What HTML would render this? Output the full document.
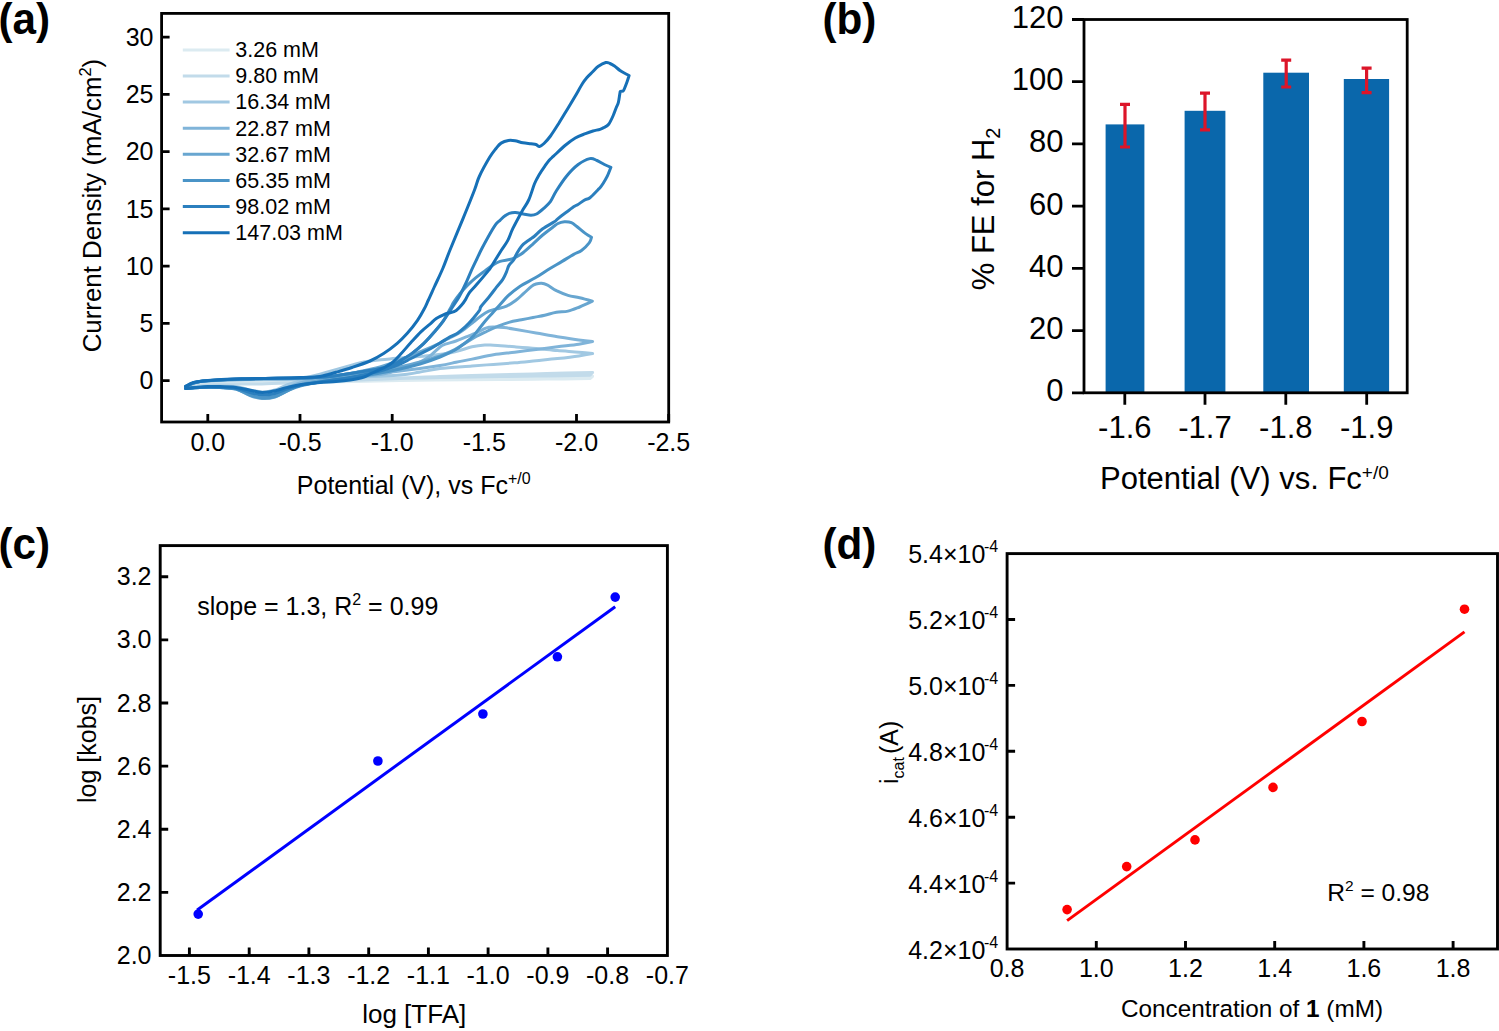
<!DOCTYPE html><html><head><meta charset="utf-8"><title>Figure</title><style>
html,body{margin:0;padding:0;background:#fff;overflow:hidden;width:1499px;height:1031px;}
svg{display:block;}
text{font-family:"Liberation Sans", sans-serif;fill:#000;}
.b{font-weight:bold;}
</style></head><body>
<svg width="1499" height="1031" viewBox="0 0 1499 1031">
<rect x="0" y="0" width="1499" height="1031" fill="#fff"/>
<text x="0.0" y="33.5" font-size="44" class="b" transform="translate(-1.5,0) scale(0.96,1) translate(0.0,0)">(a)</text>
<text x="0.0" y="34.2" font-size="44" class="b" transform="translate(822.5,0) scale(0.96,1) translate(0.0,0)">(b)</text>
<text x="0.0" y="559.3" font-size="44" class="b" transform="translate(-1.5,0) scale(0.96,1) translate(0.0,0)">(c)</text>
<text x="0.0" y="559.3" font-size="44" class="b" transform="translate(822.5,0) scale(0.96,1) translate(0.0,0)">(d)</text>
<defs><clipPath id="ca"><rect x="161.6" y="13.4" width="507.1" height="408.6"/></clipPath></defs>
<g clip-path="url(#ca)" fill="none" stroke-width="3" stroke-linejoin="round" stroke-linecap="round">
<path d="M185.6,386.5 C188.0,385.8 190.1,383.5 200.0,382.5 C209.9,381.5 228.3,380.9 245.0,380.5 C261.7,380.1 274.2,380.2 300.0,380.0 C325.8,379.8 366.7,379.4 400.0,379.0 C433.3,378.6 475.6,377.9 500.0,377.6 C524.5,377.3 531.3,377.3 546.7,377.1 C562.1,376.9 592.6,376.3 592.6,376.3 C592.6,376.3 590.0,378.6 590.0,378.6 C590.0,378.6 561.7,379.0 546.7,379.1 C531.7,379.2 524.5,379.3 500.0,379.5 C475.6,379.7 433.3,380.0 400.0,380.5 C366.7,381.0 327.3,382.0 300.0,382.5 C272.7,383.0 252.7,383.1 236.0,383.5 C219.3,383.9 208.4,384.2 200.0,385.0 C191.6,385.8 188.0,387.5 185.6,388.0" stroke="#dcebf1"/>
<path d="M185.6,386.5 C188.0,385.8 190.1,383.1 200.0,382.0 C209.9,380.9 228.3,380.4 245.0,380.0 C261.7,379.6 282.5,379.7 300.0,379.5 C317.5,379.3 333.3,379.2 350.0,379.0 C366.7,378.8 385.0,378.4 400.0,378.0 C415.0,377.6 423.3,377.0 440.0,376.5 C456.7,376.0 482.2,375.3 500.0,374.8 C517.8,374.3 531.3,374.0 546.7,373.6 C562.1,373.2 592.6,372.4 592.6,372.4 C592.6,372.4 590.0,375.2 590.0,375.2 C590.0,375.2 561.7,375.7 546.7,375.9 C531.7,376.1 517.8,376.3 500.0,376.6 C482.2,376.9 456.7,377.3 440.0,377.6 C423.3,377.9 415.0,378.0 400.0,378.5 C385.0,379.0 366.7,379.8 350.0,380.5 C333.3,381.2 314.7,381.9 300.0,382.5 C285.3,383.1 272.7,383.8 262.0,384.0 C251.3,384.2 246.3,383.8 236.0,384.0 C225.7,384.2 208.4,384.8 200.0,385.5 C191.6,386.2 188.0,387.6 185.6,388.0" stroke="#c2dbea"/>
<path d="M185.6,386.5 C188.0,385.7 190.1,382.7 200.0,381.5 C209.9,380.3 228.3,380.1 245.0,379.5 C261.7,378.9 286.4,379.2 300.0,378.0 C313.6,376.8 316.0,375.0 326.7,372.3 C337.4,369.6 353.9,364.2 364.0,362.0 C374.1,359.8 379.7,360.0 387.4,359.2 C395.1,358.4 402.3,358.0 410.0,357.3 C417.7,356.6 426.6,356.0 433.4,355.2 C440.2,354.4 446.0,353.6 450.7,352.7 C455.4,351.8 457.8,351.0 461.3,350.0 C464.9,349.0 468.1,347.6 472.0,346.8 C475.9,346.0 481.2,345.3 484.8,345.0 C488.4,344.7 488.4,344.9 493.4,345.2 C498.4,345.5 507.6,346.3 514.7,346.8 C521.8,347.3 529.0,347.8 536.1,348.4 C543.2,349.0 550.3,350.0 557.4,350.6 C564.5,351.2 572.9,351.7 578.8,352.2 C584.7,352.7 592.6,353.5 592.6,353.5 C592.6,353.5 584.7,355.0 578.8,355.9 C572.9,356.8 564.5,357.8 557.4,358.6 C550.3,359.4 543.2,360.0 536.1,360.7 C529.0,361.4 521.8,362.2 514.7,362.8 C507.6,363.4 500.5,363.9 493.4,364.4 C486.3,364.9 480.9,365.3 472.0,366.0 C463.1,366.7 448.9,367.4 440.0,368.5 C431.1,369.6 425.6,371.2 418.9,372.3 C412.2,373.4 409.8,374.2 400.0,375.0 C390.2,375.8 373.3,376.5 360.0,377.0 C346.7,377.5 330.0,377.3 320.0,378.0 C310.0,378.7 305.5,379.8 300.0,381.0 C294.5,382.2 291.2,383.5 287.0,385.0 C282.8,386.5 279.1,388.8 275.0,390.0 C270.9,391.2 266.4,392.0 262.2,392.0 C258.0,392.0 254.4,390.9 250.0,390.0 C245.6,389.1 241.0,387.2 236.0,386.5 C231.0,385.8 226.0,386.0 220.0,386.0 C214.0,386.0 205.7,386.2 200.0,386.5 C194.3,386.8 188.0,387.8 185.6,388.0" stroke="#a1c8e2"/>
<path d="M185.6,386.5 C188.0,385.7 190.1,382.7 200.0,381.5 C209.9,380.3 228.3,379.6 245.0,379.2 C261.7,378.8 284.2,379.0 300.0,378.8 C315.8,378.6 326.7,378.7 340.0,378.0 C353.3,377.3 370.0,375.8 380.0,374.5 C390.0,373.2 393.3,372.1 400.0,370.0 C406.7,367.9 415.0,364.3 420.0,362.0 C425.0,359.7 426.7,358.5 430.0,356.0 C433.3,353.5 437.4,349.0 440.0,347.0 C442.6,345.0 442.6,345.2 445.3,344.2 C448.0,343.2 452.4,342.2 456.0,341.0 C459.6,339.8 463.1,338.1 466.7,336.7 C470.3,335.3 474.2,333.8 477.4,332.4 C480.6,331.0 483.2,329.0 485.9,328.1 C488.6,327.2 490.4,327.2 493.4,327.1 C496.4,327.0 500.4,327.2 504.0,327.6 C507.6,328.0 509.4,328.3 514.7,329.2 C520.1,330.1 529.0,331.8 536.1,333.0 C543.2,334.2 550.3,335.6 557.4,336.7 C564.5,337.8 572.9,339.1 578.8,339.9 C584.7,340.7 592.6,341.5 592.6,341.5 C592.6,341.5 584.7,343.3 578.8,344.2 C572.9,345.1 564.5,345.9 557.4,346.8 C550.3,347.7 543.2,348.6 536.1,349.5 C529.0,350.4 521.8,351.3 514.7,352.2 C507.6,353.1 500.5,353.6 493.4,354.8 C486.3,356.0 478.2,357.9 472.0,359.1 C465.8,360.4 461.3,361.2 456.0,362.3 C450.7,363.4 446.0,364.5 440.0,365.5 C434.0,366.5 426.7,367.6 420.0,368.5 C413.3,369.4 406.7,370.2 400.0,371.0 C393.3,371.8 386.7,372.7 380.0,373.5 C373.3,374.3 366.7,375.2 360.0,376.0 C353.3,376.8 346.7,377.3 340.0,378.0 C333.3,378.7 326.7,379.2 320.0,380.0 C313.3,380.8 305.5,381.7 300.0,383.0 C294.5,384.3 291.2,386.2 287.0,388.0 C282.8,389.8 279.1,392.7 275.0,394.0 C270.9,395.3 266.4,396.1 262.2,396.0 C258.0,395.9 254.4,394.8 250.0,393.5 C245.6,392.2 241.0,389.5 236.0,388.5 C231.0,387.5 226.0,387.7 220.0,387.5 C214.0,387.3 205.7,387.3 200.0,387.5 C194.3,387.7 188.0,388.3 185.6,388.5" stroke="#80b4d9"/>
<path d="M185.6,386.5 C188.0,385.7 190.1,382.8 200.0,381.5 C209.9,380.2 228.3,379.5 245.0,379.0 C261.7,378.5 287.5,378.8 300.0,378.5 C312.5,378.2 313.3,377.6 320.0,377.0 C326.7,376.4 333.3,375.9 340.0,375.0 C346.7,374.1 353.3,372.8 360.0,371.5 C366.7,370.2 373.3,368.9 380.0,367.0 C386.7,365.1 393.3,362.5 400.0,360.0 C406.7,357.5 413.3,354.8 420.0,352.0 C426.7,349.2 435.0,345.5 440.0,343.1 C445.0,340.7 447.0,339.2 450.0,337.6 C453.0,336.0 455.2,335.2 457.8,333.7 C460.4,332.1 462.9,330.2 465.5,328.3 C468.1,326.4 470.7,324.2 473.3,322.1 C475.9,320.0 478.4,317.7 481.0,315.9 C483.6,314.1 486.2,312.4 488.8,311.2 C491.4,310.0 493.5,309.7 496.5,308.9 C499.5,308.1 503.4,307.6 506.6,306.2 C509.8,304.8 513.0,302.4 515.9,300.3 C518.8,298.2 521.1,295.7 523.7,293.4 C526.3,291.1 529.5,288.0 531.5,286.4 C533.5,284.8 534.3,284.5 536.0,284.0 C537.7,283.5 539.6,283.1 541.5,283.2 C543.4,283.3 544.6,283.6 547.1,284.9 C549.6,286.1 552.9,288.9 556.4,290.7 C559.9,292.4 564.1,294.2 568.0,295.4 C571.9,296.6 575.5,296.7 579.6,297.7 C583.7,298.7 592.4,301.2 592.4,301.2 C592.4,301.2 583.7,305.4 579.6,307.0 C575.5,308.6 571.9,310.2 568.0,311.1 C564.1,312.0 560.3,311.6 556.4,312.3 C552.5,313.0 548.6,314.3 544.7,315.2 C540.8,316.1 537.0,316.7 533.1,317.5 C529.2,318.3 525.4,319.0 521.5,319.8 C517.6,320.6 513.7,321.0 509.8,322.1 C505.9,323.2 502.1,324.6 498.2,326.2 C494.3,327.8 490.4,329.6 486.5,331.5 C482.6,333.4 478.8,335.2 474.9,337.3 C471.0,339.4 467.2,342.0 463.3,344.3 C459.4,346.6 455.5,349.3 451.6,351.2 C447.7,353.1 445.3,354.1 440.0,355.9 C434.7,357.7 426.7,360.1 420.0,362.0 C413.3,363.9 406.7,365.5 400.0,367.0 C393.3,368.5 386.7,369.8 380.0,371.0 C373.3,372.2 366.7,373.4 360.0,374.5 C353.3,375.6 346.7,376.5 340.0,377.5 C333.3,378.5 326.7,379.2 320.0,380.5 C313.3,381.8 305.5,383.2 300.0,385.0 C294.5,386.8 291.2,389.0 287.0,391.0 C282.8,393.0 279.1,395.8 275.0,397.0 C270.9,398.2 266.4,398.8 262.2,398.5 C258.0,398.2 254.4,397.1 250.0,395.5 C245.6,393.9 241.0,390.3 236.0,389.0 C231.0,387.7 226.0,387.8 220.0,387.5 C214.0,387.2 205.7,387.3 200.0,387.5 C194.3,387.7 188.0,388.3 185.6,388.5" stroke="#68a6d0"/>
<path d="M185.6,386.5 C188.0,385.7 190.1,382.8 200.0,381.5 C209.9,380.2 228.3,379.6 245.0,379.0 C261.7,378.4 285.8,378.4 300.0,378.0 C314.2,377.6 320.0,377.5 330.0,376.5 C340.0,375.5 350.4,373.6 360.0,372.0 C369.6,370.4 381.2,368.8 387.8,367.0 C394.4,365.2 395.4,363.5 399.4,361.2 C403.4,358.9 408.0,356.3 412.0,353.4 C416.0,350.5 419.9,347.2 423.6,343.7 C427.3,340.1 431.1,335.8 434.3,332.1 C437.5,328.4 440.4,325.2 443.0,321.4 C445.6,317.5 448.2,312.2 450.0,309.0 C451.8,305.8 452.2,304.5 453.9,301.9 C455.6,299.3 457.9,296.1 460.1,293.4 C462.3,290.7 464.5,288.2 467.1,285.6 C469.7,283.0 472.6,280.2 475.6,277.8 C478.6,275.4 481.9,273.1 484.9,270.9 C487.9,268.7 490.9,266.3 493.4,264.7 C495.9,263.1 497.3,262.3 500.0,261.4 C502.7,260.5 507.4,260.1 509.7,259.5 C512.0,258.9 512.6,258.7 514.0,258.1 C515.4,257.5 516.5,256.9 518.0,256.0 C519.5,255.1 520.9,254.4 523.3,252.5 C525.7,250.6 529.4,247.2 532.6,244.3 C535.8,241.4 539.3,237.8 542.7,235.0 C546.1,232.2 550.2,229.1 552.8,227.2 C555.3,225.3 556.1,224.4 558.0,223.5 C559.9,222.6 562.2,222.0 564.4,221.8 C566.6,221.7 569.3,221.8 571.4,222.6 C573.5,223.4 574.5,224.7 576.8,226.5 C579.1,228.3 582.8,231.6 585.3,233.4 C587.8,235.2 591.5,237.3 591.5,237.3 C591.5,237.3 590.9,240.6 589.2,242.8 C587.5,245.0 584.1,248.6 581.5,250.5 C578.9,252.4 576.9,252.6 573.7,254.4 C570.5,256.2 566.1,259.0 562.1,261.4 C558.1,263.8 554.5,265.8 550.0,268.5 C545.5,271.2 540.3,274.8 535.3,277.8 C530.3,280.8 524.3,283.4 519.8,286.4 C515.3,289.4 511.5,292.6 508.2,295.7 C504.9,298.8 502.2,302.3 499.7,305.0 C497.2,307.7 495.7,309.4 493.4,312.0 C491.1,314.6 488.0,317.8 485.7,320.5 C483.4,323.2 481.6,325.7 479.5,328.3 C477.4,330.9 475.7,333.6 473.3,336.0 C470.9,338.4 468.1,340.7 465.0,343.0 C461.9,345.3 459.2,347.7 455.0,350.0 C450.8,352.3 445.8,354.7 440.0,357.0 C434.2,359.3 426.7,362.0 420.0,364.0 C413.3,366.0 406.7,367.5 400.0,369.0 C393.3,370.5 386.7,371.8 380.0,373.0 C373.3,374.2 366.7,375.5 360.0,376.5 C353.3,377.5 346.7,378.1 340.0,379.0 C333.3,379.9 326.7,380.8 320.0,382.0 C313.3,383.2 305.5,384.5 300.0,386.0 C294.5,387.5 291.2,389.2 287.0,391.0 C282.8,392.8 279.1,395.3 275.0,396.5 C270.9,397.7 266.4,398.2 262.2,398.0 C258.0,397.8 254.4,396.5 250.0,395.0 C245.6,393.5 241.0,390.2 236.0,389.0 C231.0,387.8 226.0,387.8 220.0,387.5 C214.0,387.2 205.7,387.3 200.0,387.5 C194.3,387.7 188.0,388.3 185.6,388.5" stroke="#4a94c7"/>
<path d="M185.6,386.5 C188.0,385.7 190.1,382.8 200.0,381.5 C209.9,380.2 228.3,379.6 245.0,379.0 C261.7,378.4 285.8,378.4 300.0,378.0 C314.2,377.6 320.0,377.5 330.0,376.5 C340.0,375.5 350.4,373.6 360.0,372.0 C369.6,370.4 381.2,368.8 387.8,367.0 C394.4,365.2 395.4,363.5 399.4,361.2 C403.4,358.9 408.0,356.3 412.0,353.4 C416.0,350.5 419.9,347.2 423.6,343.7 C427.3,340.1 431.1,335.8 434.3,332.1 C437.5,328.4 440.4,324.9 443.0,321.4 C445.6,317.9 448.2,313.7 450.0,311.0 C451.8,308.3 452.3,307.4 453.9,305.0 C455.4,302.6 457.4,300.0 459.3,296.5 C461.2,293.0 463.6,288.1 465.5,284.0 C467.4,279.9 469.1,275.6 470.9,271.6 C472.7,267.6 474.6,263.7 476.4,260.0 C478.2,256.3 479.5,253.2 481.5,249.3 C483.5,245.4 486.1,240.6 488.4,236.5 C490.7,232.4 493.5,227.6 495.4,224.9 C497.3,222.2 498.4,221.8 500.0,220.3 C501.6,218.8 503.1,217.2 504.7,216.0 C506.2,214.8 507.5,213.9 509.3,213.3 C511.1,212.7 513.2,212.4 515.5,212.5 C517.8,212.6 520.7,213.6 523.3,214.0 C525.9,214.4 528.8,215.2 531.0,215.2 C533.2,215.2 534.4,215.1 536.5,214.0 C538.6,212.9 541.1,210.7 543.4,208.6 C545.7,206.5 548.2,204.6 550.4,201.6 C552.6,198.6 553.7,194.9 556.4,190.7 C559.1,186.5 562.9,180.6 566.5,176.2 C570.1,171.8 574.3,167.4 578.2,164.5 C582.1,161.6 586.7,159.3 589.8,158.6 C592.9,157.9 594.6,159.5 597.0,160.5 C599.4,161.5 602.1,163.4 604.4,164.5 C606.7,165.6 610.9,167.3 610.9,167.3 C610.9,167.3 608.6,173.4 607.3,176.2 C606.0,178.9 604.1,181.9 602.9,183.8 C601.7,185.7 600.9,186.8 600.0,187.8 C599.1,188.8 599.5,188.3 597.8,190.0 C596.1,191.7 592.1,196.2 590.0,197.8 C587.9,199.4 587.4,198.5 585.3,199.7 C583.2,200.8 579.4,203.6 577.6,204.7 C575.8,205.8 576.5,205.0 574.5,206.3 C572.5,207.6 568.8,210.4 565.9,212.5 C563.0,214.6 559.3,217.5 557.4,219.1 C555.5,220.7 556.8,220.2 554.3,221.8 C551.8,223.4 546.1,226.4 542.7,228.8 C539.3,231.2 536.3,234.7 534.1,236.5 C531.9,238.3 531.6,238.1 529.5,239.7 C527.4,241.3 523.9,243.4 521.7,245.9 C519.5,248.4 517.6,252.1 516.3,254.4 C514.9,256.8 514.8,258.2 513.6,260.0 C512.4,261.8 510.2,263.5 509.0,265.4 C507.8,267.3 507.6,269.3 506.6,271.6 C505.6,273.9 504.5,276.8 502.8,279.4 C501.1,282.0 498.8,284.2 496.5,287.2 C494.2,290.2 491.4,294.0 488.8,297.2 C486.2,300.4 482.6,304.3 481.0,306.5 C479.4,308.7 480.8,308.4 479.5,310.4 C478.2,312.3 475.6,315.5 473.3,318.2 C471.0,320.9 468.1,324.2 465.5,326.7 C462.9,329.1 460.4,331.2 457.8,332.9 C455.2,334.6 453.0,335.1 450.0,336.8 C447.0,338.5 443.3,341.0 440.0,343.0 C436.7,345.0 433.3,347.2 430.0,349.0 C426.7,350.8 423.3,352.3 420.0,354.0 C416.7,355.7 413.3,357.3 410.0,359.0 C406.7,360.7 404.2,362.2 400.0,364.0 C395.8,365.8 390.0,367.9 385.0,369.5 C380.0,371.1 375.8,372.2 370.0,373.5 C364.2,374.8 356.7,376.3 350.0,377.5 C343.3,378.7 336.7,379.5 330.0,380.5 C323.3,381.5 315.0,382.7 310.0,383.5 C305.0,384.3 303.8,384.6 300.0,385.5 C296.2,386.4 291.2,387.7 287.0,389.0 C282.8,390.3 279.1,392.5 275.0,393.5 C270.9,394.5 266.4,395.2 262.2,395.0 C258.0,394.8 254.4,393.6 250.0,392.5 C245.6,391.4 241.0,389.3 236.0,388.5 C231.0,387.7 226.0,387.7 220.0,387.5 C214.0,387.3 205.7,387.3 200.0,387.5 C194.3,387.7 188.0,388.3 185.6,388.5" stroke="#2b7fbe"/>
<path d="M185.6,386.5 C186.7,385.9 189.8,383.8 192.0,383.0 C194.2,382.2 194.5,382.0 198.7,381.5 C202.9,381.0 209.6,380.3 217.4,379.8 C225.2,379.3 236.1,379.0 245.4,378.7 C254.7,378.4 264.1,378.4 273.4,378.2 C282.7,378.0 293.6,377.9 301.4,377.6 C309.2,377.3 314.2,377.4 320.0,376.5 C325.8,375.6 330.7,373.8 336.0,372.3 C341.3,370.8 346.3,369.4 352.0,367.5 C357.7,365.6 364.7,363.3 370.0,361.0 C375.3,358.7 379.1,356.5 383.6,353.6 C388.1,350.7 393.2,346.8 397.2,343.4 C401.1,340.0 403.9,337.1 407.3,333.3 C410.7,329.5 414.7,324.5 417.5,320.4 C420.3,316.3 422.5,312.2 424.3,308.8 C426.1,305.4 426.7,303.6 428.4,300.0 C430.1,296.4 431.9,292.3 434.3,287.0 C436.7,281.7 440.4,274.2 443.0,268.0 C445.6,261.8 446.7,258.1 450.0,250.0 C453.3,241.8 458.7,229.1 462.8,219.1 C466.9,209.1 471.8,197.1 474.5,190.0 C477.2,182.9 476.8,181.9 479.3,176.5 C481.8,171.1 486.7,162.3 489.5,157.6 C492.3,152.9 494.1,150.9 496.0,148.5 C497.9,146.1 499.0,144.4 501.1,143.1 C503.2,141.8 506.1,140.9 508.4,140.5 C510.7,140.1 512.6,140.4 515.0,140.8 C517.4,141.2 520.2,142.3 522.9,142.8 C525.6,143.3 528.8,143.5 531.0,143.8 C533.2,144.1 534.6,144.1 536.0,144.5 C537.4,144.9 538.2,146.7 539.5,146.5 C540.8,146.3 542.2,145.2 544.0,143.5 C545.8,141.8 548.0,139.4 550.5,136.0 C553.0,132.6 556.1,127.6 559.0,123.0 C561.9,118.4 565.3,112.6 568.0,108.2 C570.7,103.8 572.6,100.6 575.0,96.5 C577.4,92.4 580.5,86.7 582.5,83.5 C584.5,80.3 585.3,79.5 587.0,77.5 C588.7,75.5 590.9,73.6 592.7,71.8 C594.5,70.0 595.8,68.0 598.0,66.5 C600.2,65.0 603.8,63.0 605.8,62.5 C607.8,62.0 608.5,62.9 610.0,63.5 C611.5,64.1 612.8,64.8 614.5,66.0 C616.2,67.2 618.3,69.3 620.0,70.5 C621.7,71.7 623.2,72.5 624.7,73.3 C626.2,74.1 629.1,75.5 629.1,75.5 C629.1,75.5 627.8,79.8 627.0,82.0 C626.2,84.2 625.1,87.0 624.5,88.5 C623.9,90.0 623.2,91.0 623.2,91.0 C623.2,91.0 620.2,91.5 620.2,91.5 C620.2,91.5 620.0,92.7 619.7,94.5 C619.4,96.3 619.0,100.1 618.4,102.4 C617.8,104.7 616.9,105.9 616.0,108.2 C615.1,110.5 614.2,113.3 613.0,116.0 C611.8,118.7 610.2,122.3 608.7,124.2 C607.2,126.1 605.5,126.7 604.0,127.5 C602.5,128.3 601.8,128.7 600.0,129.3 C598.2,129.9 595.4,130.3 593.0,131.0 C590.6,131.7 588.5,132.4 585.5,133.6 C582.5,134.8 578.7,136.0 575.3,138.0 C571.9,140.0 568.6,142.5 565.0,145.5 C561.4,148.5 556.2,153.7 553.5,156.2 C550.8,158.7 550.5,158.8 549.0,160.5 C547.5,162.2 546.4,164.0 544.7,166.4 C543.0,168.8 540.7,172.1 539.0,175.0 C537.3,177.9 536.2,179.6 534.5,183.8 C532.8,188.0 530.8,195.5 528.7,200.0 C526.7,204.5 524.8,206.2 522.2,210.9 C519.6,215.6 515.3,223.5 512.9,228.4 C510.5,233.3 509.8,236.7 507.8,240.4 C505.9,244.1 503.9,246.3 501.2,250.5 C498.5,254.7 494.0,262.3 491.9,265.6 C489.8,268.9 491.4,266.9 488.8,270.1 C486.2,273.3 479.6,281.1 476.4,284.8 C473.2,288.6 471.2,290.1 469.4,292.6 C467.6,295.1 466.8,297.5 465.5,299.6 C464.2,301.7 463.2,303.2 461.6,305.0 C460.1,306.8 458.1,309.1 456.2,310.4 C454.3,311.7 451.7,312.3 450.0,312.8 C448.3,313.3 448.3,312.7 446.0,313.6 C443.7,314.6 439.0,316.7 436.3,318.5 C433.6,320.3 432.3,322.2 429.7,324.4 C427.1,326.6 424.1,328.8 420.9,331.9 C417.7,335.0 414.1,339.1 410.7,342.8 C407.3,346.5 403.6,351.0 400.5,354.3 C397.4,357.6 395.2,360.2 392.4,362.5 C389.6,364.8 387.0,366.1 383.6,367.9 C380.2,369.6 375.3,371.5 372.0,373.0 C368.7,374.5 367.7,375.8 364.0,377.0 C360.3,378.2 354.7,379.2 350.0,380.0 C345.3,380.8 341.0,381.2 336.0,381.6 C331.0,382.0 325.8,382.0 320.0,382.5 C314.2,383.0 306.8,383.8 301.4,384.6 C296.0,385.4 291.0,386.6 287.4,387.4 C283.8,388.2 282.3,388.9 280.0,389.5 C277.7,390.1 276.4,390.6 273.4,391.1 C270.4,391.6 266.1,392.6 262.2,392.5 C258.3,392.4 254.4,391.1 250.0,390.2 C245.6,389.3 241.0,388.0 236.0,387.4 C231.0,386.8 224.7,386.6 220.0,386.5 C215.3,386.4 212.2,386.3 208.0,386.5 C203.8,386.7 198.7,387.2 195.0,387.5 C191.3,387.8 187.2,388.3 185.6,388.5" stroke="#1670b7"/>
</g>
<rect x="161.6" y="13.4" width="507.1" height="408.6" fill="none" stroke="#000" stroke-width="2.8"/>
<text x="153.5" y="389.4" font-size="25.0" text-anchor="end">0</text>
<text x="153.5" y="332.2" font-size="25.0" text-anchor="end">5</text>
<text x="153.5" y="274.9" font-size="25.0" text-anchor="end">10</text>
<text x="153.5" y="217.7" font-size="25.0" text-anchor="end">15</text>
<text x="153.5" y="160.4" font-size="25.0" text-anchor="end">20</text>
<text x="153.5" y="103.2" font-size="25.0" text-anchor="end">25</text>
<text x="153.5" y="45.9" font-size="25.0" text-anchor="end">30</text>
<text x="207.8" y="450.7" font-size="25.0" text-anchor="middle">0.0</text>
<text x="300.0" y="450.7" font-size="25.0" text-anchor="middle">-0.5</text>
<text x="392.2" y="450.7" font-size="25.0" text-anchor="middle">-1.0</text>
<text x="484.3" y="450.7" font-size="25.0" text-anchor="middle">-1.5</text>
<text x="576.5" y="450.7" font-size="25.0" text-anchor="middle">-2.0</text>
<text x="668.7" y="450.7" font-size="25.0" text-anchor="middle">-2.5</text>
<path d="M161.6,380.6H169.6 M161.6,323.4H169.6 M161.6,266.1H169.6 M161.6,208.9H169.6 M161.6,151.6H169.6 M161.6,94.4H169.6 M161.6,37.1H169.6 M207.8,422.0V414.0 M300.0,422.0V414.0 M392.2,422.0V414.0 M484.3,422.0V414.0 M576.5,422.0V414.0 M668.7,422.0V414.0" stroke="#000" stroke-width="2.8" fill="none"/>
<text x="296.8" y="493.9" font-size="25.0" text-anchor="start">Potential (V), vs Fc<tspan font-size="16" dy="-10">+/0</tspan></text>
<text transform="translate(100.6,352.3) rotate(-90)" font-size="25.85" x="0" y="0">Current Density (mA/cm<tspan font-size="16.5" dy="-10">2</tspan><tspan dy="10">)</tspan></text>
<path d="M182.8,49.9H229.6" stroke="#dcebf1" stroke-width="3"/>
<text x="235.3" y="57.2" font-size="21.5" text-anchor="start">3.26 mM</text>
<path d="M182.8,76.0H229.6" stroke="#c2dbea" stroke-width="3"/>
<text x="235.3" y="83.3" font-size="21.5" text-anchor="start">9.80 mM</text>
<path d="M182.8,102.1H229.6" stroke="#a1c8e2" stroke-width="3"/>
<text x="235.3" y="109.4" font-size="21.5" text-anchor="start">16.34 mM</text>
<path d="M182.8,128.2H229.6" stroke="#80b4d9" stroke-width="3"/>
<text x="235.3" y="135.5" font-size="21.5" text-anchor="start">22.87 mM</text>
<path d="M182.8,154.3H229.6" stroke="#68a6d0" stroke-width="3"/>
<text x="235.3" y="161.6" font-size="21.5" text-anchor="start">32.67 mM</text>
<path d="M182.8,180.5H229.6" stroke="#4a94c7" stroke-width="3"/>
<text x="235.3" y="187.8" font-size="21.5" text-anchor="start">65.35 mM</text>
<path d="M182.8,206.6H229.6" stroke="#2b7fbe" stroke-width="3"/>
<text x="235.3" y="213.9" font-size="21.5" text-anchor="start">98.02 mM</text>
<path d="M182.8,232.7H229.6" stroke="#1670b7" stroke-width="3"/>
<text x="235.3" y="240.0" font-size="21.5" text-anchor="start">147.03 mM</text>
<g fill="#0a67ab">
<rect x="1105.6" y="124.4" width="38.8" height="268.4"/>
<rect x="1184.6" y="110.8" width="40.8" height="282.0"/>
<rect x="1263.3" y="72.7" width="45.7" height="320.1"/>
<rect x="1343.8" y="79.0" width="45.3" height="313.8"/>
</g>
<path d="M1125.0,104.4V147.0 M1120.0,104.4H1130.0 M1120.0,147.0H1130.0 M1205.0,93.1V129.8 M1200.0,93.1H1210.0 M1200.0,129.8H1210.0 M1286.2,60.2V87.0 M1281.2,60.2H1291.2 M1281.2,87.0H1291.2 M1366.6,68.1V92.6 M1361.6,68.1H1371.6 M1361.6,92.6H1371.6" stroke="#dc1529" stroke-width="3.2" fill="none"/>
<rect x="1084.0" y="19.5" width="323.2" height="373.3" fill="none" stroke="#000" stroke-width="2.8"/>
<text x="1063.5" y="401.1" font-size="31.0" text-anchor="end">0</text>
<text x="1063.5" y="338.9" font-size="31.0" text-anchor="end">20</text>
<text x="1063.5" y="276.7" font-size="31.0" text-anchor="end">40</text>
<text x="1063.5" y="214.5" font-size="31.0" text-anchor="end">60</text>
<text x="1063.5" y="152.2" font-size="31.0" text-anchor="end">80</text>
<text x="1063.5" y="90.0" font-size="31.0" text-anchor="end">100</text>
<text x="1063.5" y="27.8" font-size="31.0" text-anchor="end">120</text>
<text x="1124.8" y="438.0" font-size="31.0" text-anchor="middle">-1.6</text>
<text x="1205.0" y="438.0" font-size="31.0" text-anchor="middle">-1.7</text>
<text x="1285.8" y="438.0" font-size="31.0" text-anchor="middle">-1.8</text>
<text x="1366.7" y="438.0" font-size="31.0" text-anchor="middle">-1.9</text>
<path d="M1072.0,392.8H1084.0 M1072.0,330.6H1084.0 M1072.0,268.4H1084.0 M1072.0,206.2H1084.0 M1072.0,143.9H1084.0 M1072.0,81.7H1084.0 M1072.0,19.5H1084.0 M1124.8,392.8V404.8 M1205.0,392.8V404.8 M1285.8,392.8V404.8 M1366.7,392.8V404.8" stroke="#000" stroke-width="2.8" fill="none"/>
<text x="1100.0" y="488.5" font-size="31.0" text-anchor="start">Potential (V) vs. Fc<tspan font-size="19" dy="-10">+/0</tspan></text>
<text transform="translate(994.3,290.3) rotate(-90)" font-size="31" x="0" y="0">% FE for H<tspan font-size="20" dy="6">2</tspan></text>
<rect x="160.2" y="545.6" width="507.2" height="409.9" fill="none" stroke="#000" stroke-width="2.9"/>
<text x="151.5" y="964.0" font-size="25.0" text-anchor="end">2.0</text>
<text x="151.5" y="900.9" font-size="25.0" text-anchor="end">2.2</text>
<text x="151.5" y="837.8" font-size="25.0" text-anchor="end">2.4</text>
<text x="151.5" y="774.6" font-size="25.0" text-anchor="end">2.6</text>
<text x="151.5" y="711.5" font-size="25.0" text-anchor="end">2.8</text>
<text x="151.5" y="648.4" font-size="25.0" text-anchor="end">3.0</text>
<text x="151.5" y="585.3" font-size="25.0" text-anchor="end">3.2</text>
<text x="189.4" y="984.0" font-size="25.0" text-anchor="middle">-1.5</text>
<text x="249.2" y="984.0" font-size="25.0" text-anchor="middle">-1.4</text>
<text x="308.9" y="984.0" font-size="25.0" text-anchor="middle">-1.3</text>
<text x="368.7" y="984.0" font-size="25.0" text-anchor="middle">-1.2</text>
<text x="428.4" y="984.0" font-size="25.0" text-anchor="middle">-1.1</text>
<text x="488.1" y="984.0" font-size="25.0" text-anchor="middle">-1.0</text>
<text x="547.9" y="984.0" font-size="25.0" text-anchor="middle">-0.9</text>
<text x="607.6" y="984.0" font-size="25.0" text-anchor="middle">-0.8</text>
<text x="667.4" y="984.0" font-size="25.0" text-anchor="middle">-0.7</text>
<path d="M160.2,892.4H168.2 M160.2,829.3H168.2 M160.2,766.1H168.2 M160.2,703.0H168.2 M160.2,639.9H168.2 M160.2,576.8H168.2 M189.4,955.5V947.5 M249.2,955.5V947.5 M308.9,955.5V947.5 M368.7,955.5V947.5 M428.4,955.5V947.5 M488.1,955.5V947.5 M547.9,955.5V947.5 M607.6,955.5V947.5" stroke="#000" stroke-width="2.9" fill="none"/>
<path d="M197.2,910.0L615.2,606.7" stroke="#0000ff" stroke-width="3" fill="none"/>
<circle cx="198.2" cy="914.1" r="4.8" fill="#0000ff"/>
<circle cx="377.9" cy="761.0" r="4.8" fill="#0000ff"/>
<circle cx="482.9" cy="714.0" r="4.8" fill="#0000ff"/>
<circle cx="557.4" cy="656.8" r="4.8" fill="#0000ff"/>
<circle cx="615.2" cy="597.1" r="4.8" fill="#0000ff"/>
<text x="197.3" y="615.4" font-size="25.0" text-anchor="start">slope = 1.3, R<tspan font-size="16" dy="-10">2</tspan><tspan dy="10"> = 0.99</tspan></text>
<text x="362.2" y="1022.8" font-size="26.0" text-anchor="start">log [TFA]</text>
<text transform="translate(95.8,803) rotate(-90)" font-size="25" x="0" y="0">log [kobs]</text>
<rect x="1007.1" y="553.6" width="490.4" height="395.4" fill="none" stroke="#000" stroke-width="2.9"/>
<text x="985.4" y="958.8" font-size="25.0" text-anchor="end">4.2&#215;10</text>
<text x="984.0" y="947.7" font-size="16.0" text-anchor="start">-4</text>
<text x="985.4" y="892.9" font-size="25.0" text-anchor="end">4.4&#215;10</text>
<text x="984.0" y="881.8" font-size="16.0" text-anchor="start">-4</text>
<text x="985.4" y="827.0" font-size="25.0" text-anchor="end">4.6&#215;10</text>
<text x="984.0" y="815.9" font-size="16.0" text-anchor="start">-4</text>
<text x="985.4" y="761.1" font-size="25.0" text-anchor="end">4.8&#215;10</text>
<text x="984.0" y="750.0" font-size="16.0" text-anchor="start">-4</text>
<text x="985.4" y="695.2" font-size="25.0" text-anchor="end">5.0&#215;10</text>
<text x="984.0" y="684.1" font-size="16.0" text-anchor="start">-4</text>
<text x="985.4" y="629.3" font-size="25.0" text-anchor="end">5.2&#215;10</text>
<text x="984.0" y="618.2" font-size="16.0" text-anchor="start">-4</text>
<text x="985.4" y="563.4" font-size="25.0" text-anchor="end">5.4&#215;10</text>
<text x="984.0" y="552.3" font-size="16.0" text-anchor="start">-4</text>
<text x="1007.1" y="976.5" font-size="25.0" text-anchor="middle">0.8</text>
<text x="1096.3" y="976.5" font-size="25.0" text-anchor="middle">1.0</text>
<text x="1185.5" y="976.5" font-size="25.0" text-anchor="middle">1.2</text>
<text x="1274.7" y="976.5" font-size="25.0" text-anchor="middle">1.4</text>
<text x="1363.9" y="976.5" font-size="25.0" text-anchor="middle">1.6</text>
<text x="1453.1" y="976.5" font-size="25.0" text-anchor="middle">1.8</text>
<path d="M1007.1,883.1H1015.1 M1007.1,817.2H1015.1 M1007.1,751.3H1015.1 M1007.1,685.4H1015.1 M1007.1,619.5H1015.1 M1096.3,949.0V941.0 M1185.5,949.0V941.0 M1274.7,949.0V941.0 M1363.9,949.0V941.0 M1453.1,949.0V941.0" stroke="#000" stroke-width="2.9" fill="none"/>
<path d="M1067.1,920.6L1464.5,631.9" stroke="#ff0000" stroke-width="3" fill="none"/>
<circle cx="1067.1" cy="909.6" r="4.8" fill="#ff0000"/>
<circle cx="1126.7" cy="866.6" r="4.8" fill="#ff0000"/>
<circle cx="1195.0" cy="839.9" r="4.8" fill="#ff0000"/>
<circle cx="1273.0" cy="787.4" r="4.8" fill="#ff0000"/>
<circle cx="1362.0" cy="721.5" r="4.8" fill="#ff0000"/>
<circle cx="1464.5" cy="609.2" r="4.8" fill="#ff0000"/>
<text x="1327.2" y="901.4" font-size="24.6" text-anchor="start">R<tspan font-size="15.5" dy="-10">2</tspan><tspan dy="10"> = 0.98</tspan></text>
<text x="1121.0" y="1017.2" font-size="24.3" text-anchor="start">Concentration of <tspan font-weight="bold">1</tspan> (mM)</text>
<text transform="translate(897.7,784.0) rotate(-90)" font-size="25" x="0" y="0">i<tspan font-size="16" dy="6">cat</tspan><tspan dy="-6" dx="3">(A)</tspan></text>
</svg></body></html>
